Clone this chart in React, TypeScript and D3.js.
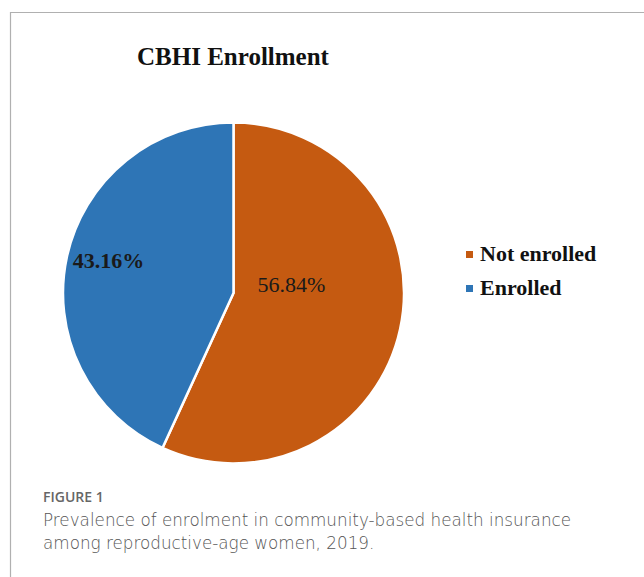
import React from "react";
import * as d3 from "d3";

const categories = ["Not enrolled", "Enrolled"];
const values = [56.84, 43.16];
const labels = ["56.84%", "43.16%"];
const colors = ["#C55A11", "#2E75B6"];
const title = "CBHI Enrollment";
const figLabel = "FIGURE 1";
const captionLines = [
  "Prevalence of enrolment in community-based health insurance",
  "among reproductive-age women, 2019.",
];

export default function App() {
  const W = 644, H = 577;
  const cx = 233.5, cy = 293, r = 170.5;
  const pie = d3.pie<number>().sort(null).value((d) => d)(values);
  const arc = d3.arc<d3.PieArcDatum<number>>().innerRadius(0).outerRadius(r);
  const labelPos = [
    { x: 291.5, y: 292, weight: 400 },
    { x: 108.5, y: 268, weight: 700 },
  ];
  const serif = "'Liberation Serif', 'Times New Roman', serif";
  const sans = "'Open Sans', Lato, sans-serif";
  const capSans = "'DejaVu Sans', 'Open Sans', sans-serif";
  return (
    <svg width={W} height={H} style={{ position: "absolute", left: 0, top: 0, background: "#fff" }}>
      <rect x={0} y={0} width={W} height={H} fill="#fff" />
      <path d={`M10.5,${H} L10.5,12.5 L${W},12.5`} fill="none" stroke="#b0b0b0" strokeWidth={1.2} />
      <text x={137} y={65} fontFamily={serif} fontWeight={700} fontSize={25} fill="#111">{title}</text>
      <g transform={`translate(${cx},${cy})`}>
        {pie.map((p, i) => (
          <path key={categories[i]} d={arc(p) || ""} fill={colors[i]} stroke="#fff" strokeWidth={2.5} />
        ))}
      </g>
      {labels.map((l, i) => (
        <text key={l} x={labelPos[i].x} y={labelPos[i].y} textAnchor="middle" fontFamily={serif}
          fontWeight={labelPos[i].weight} fontSize={22} fill="#1a1a1a">{l}</text>
      ))}
      {categories.map((c, i) => (
        <g key={c}>
          <rect x={466} y={251 + i * 34} width={7} height={7} fill={colors[i]} />
          <text x={480} y={261 + i * 34} fontFamily={serif} fontWeight={700} fontSize={22} fill="#111">{c}</text>
        </g>
      ))}
      <text x={43} y={502} fontFamily={sans} fontWeight={600} fontSize={14} fill="#666">{figLabel}</text>
      {captionLines.map((t, i) => (
        <text key={i} x={43} y={526 + i * 22.5} fontFamily={capSans} fontWeight={200} fontSize={16.8} fill="#555">{t}</text>
      ))}
    </svg>
  );
}
